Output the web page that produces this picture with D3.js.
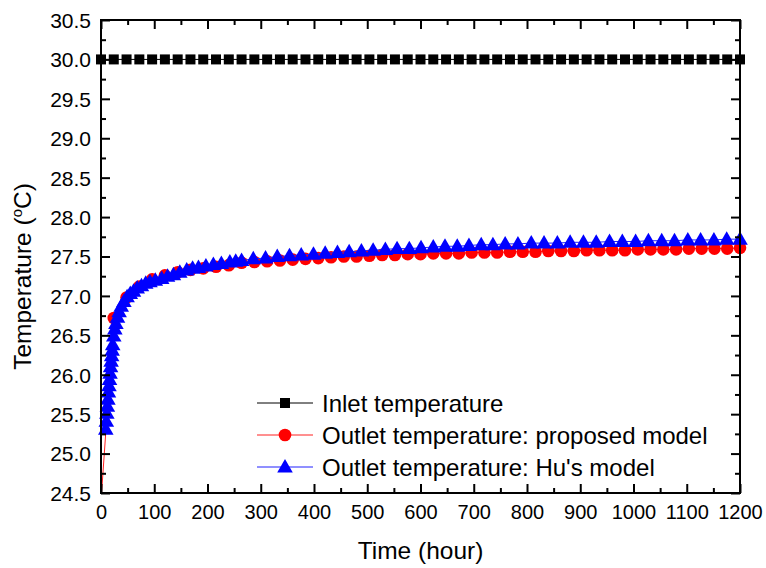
<!DOCTYPE html>
<html><head><meta charset="utf-8">
<script src="https://cdn.jsdelivr.net/npm/d3@7"></script>
<style>
html,body{margin:0;padding:0;background:#fff;}
text{font-family:"Liberation Sans",Arial,sans-serif;fill:#000;}
</style></head>
<body>
<svg id="chart" width="766" height="568"></svg>
<script>
// ---- data ----
const xTicks = [0,100,200,300,400,500,600,700,800,900,1000,1100,1200];
const yTicks = [24.5,25.0,25.5,26.0,26.5,27.0,27.5,28.0,28.5,29.0,29.5,30.0,30.5];

const inletTime = [0,24,48,72,96,120,144,168,192,216,240,264,288,312,336,360,384,408,432,456,480,504,528,552,576,600,624,648,672,696,720,744,768,792,816,840,864,888,912,936,960,984,1008,1032,1056,1080,1104,1128,1152,1176,1200];
const inletTemp = [30,30,30,30,30,30,30,30,30,30,30,30,30,30,30,30,30,30,30,30,30,30,30,30,30,30,30,30,30,30,30,30,30,30,30,30,30,30,30,30,30,30,30,30,30,30,30,30,30,30,30];

const proposedTime = [0,24,48,72,96,120,144,168,192,216,240,264,288,312,336,360,384,408,432,456,480,504,528,552,576,600,624,648,672,696,720,744,768,792,816,840,864,888,912,936,960,984,1008,1032,1056,1080,1104,1128,1152,1176,1200];
const proposedTemp = [24.4,26.72,26.98,27.12,27.21,27.26,27.30,27.33,27.35,27.37,27.39,27.42,27.43,27.44,27.45,27.46,27.47,27.48,27.49,27.50,27.50,27.51,27.52,27.52,27.53,27.53,27.54,27.54,27.54,27.55,27.55,27.55,27.56,27.56,27.56,27.57,27.57,27.57,27.58,27.58,27.58,27.58,27.59,27.59,27.59,27.59,27.60,27.60,27.60,27.60,27.61];

const huTime = [9,10,11,12,13,14,15,16,17,18,19,20,21,22,24,26,28,31,34,38,43,49,55,61,68,76,84,92,102,114,125,136,148,161,172,183,197,211,226,242,253,264,286,309,331,354,376,399,421,444,466,489,511,534,556,579,601,624,646,669,691,714,736,759,783,808,832,857,881,906,930,955,979,1004,1028,1053,1077,1102,1126,1151,1175,1200];
const huTemp = [25.31,25.41,25.51,25.60,25.69,25.78,25.86,25.94,26.02,26.10,26.17,26.24,26.31,26.38,26.49,26.58,26.65,26.73,26.80,26.87,26.93,26.99,27.03,27.06,27.10,27.13,27.16,27.18,27.20,27.22,27.25,27.27,27.30,27.33,27.35,27.36,27.38,27.40,27.41,27.43,27.44,27.45,27.47,27.48,27.50,27.51,27.52,27.53,27.54,27.55,27.56,27.57,27.58,27.59,27.60,27.60,27.61,27.62,27.63,27.63,27.64,27.65,27.65,27.66,27.66,27.67,27.67,27.67,27.68,27.68,27.68,27.69,27.69,27.69,27.70,27.70,27.70,27.71,27.71,27.71,27.72,27.72];

const seriesNames = ["Inlet temperature","Outlet temperature: proposed model","Outlet temperature: Hu's model"];
const seriesColors = ["#000000","#ff0000","#0000ff"];
const lineColors = ["#000000","#ff2020","#2020ff"];

// ---- layout ----
const L = 101, R = 740, T = 20, B = 493;
const svg = d3.select("#chart");
const x = d3.scaleLinear().domain([0,1200]).range([L,R]);
const y = d3.scaleLinear().domain([24.5,30.5]).range([B,T]);

svg.append("defs").append("clipPath").attr("id","clip")
  .append("rect").attr("x",L-8).attr("y",0).attr("width",R-L+16).attr("height",B);

const series = [
  {t: inletTime, v: inletTemp, shape: "square"},
  {t: proposedTime, v: proposedTemp, shape: "circle"},
  {t: huTime, v: huTemp, shape: "triangle"}
];

const symbolFor = s => s==="square" ? d3.symbol(d3.symbolSquare, 100)
  : s==="circle" ? d3.symbol(d3.symbolCircle, 125)
  : d3.symbol(d3.symbolTriangle, 105);

const plot = svg.append("g").attr("clip-path","url(#clip)");
series.forEach((s,i) => {
  const pts = s.t.map((t,k)=>[t,s.v[k]]);
  plot.append("path").datum(pts)
    .attr("d", d3.line().x(d=>x(d[0])).y(d=>y(d[1])))
    .attr("fill","none").attr("stroke",lineColors[i]).attr("stroke-width",1);
  plot.append("g").selectAll("path").data(pts).join("path")
    .attr("transform", d=>`translate(${x(d[0])},${y(d[1]) + (s.shape==="triangle"?1:0)})`)
    .attr("d", symbolFor(s.shape)())
    .attr("fill", seriesColors[i]);
});

// ---- axes ----
const xMinor = d3.range(50,1200,100);
const yMinor = d3.range(24.75,30.5,0.5);
function drawAxis(axisGen, tr, major, minor, labels, fontSize){
  const g = svg.append("g").attr("transform",tr);
  g.call(axisGen.tickValues(minor).tickSize(5).tickFormat(""));
  g.selectAll(".tick line").attr("stroke-width",2);
  const g2 = svg.append("g").attr("transform",tr);
  g2.call(axisGen.tickValues(major).tickSize(9).tickPadding(labels?12:0)
    .tickFormat(labels ? labels : ""));
  g2.selectAll(".tick line").attr("stroke-width",2);
  g2.selectAll(".tick text").attr("font-size",fontSize).attr("font-family","Liberation Sans, Arial, sans-serif");
  [g,g2].forEach(gg=>gg.select(".domain").remove());
  return g2;
}
// bottom (ticks inward = upward)
const gb = drawAxis(d3.axisTop(x), `translate(0,${B})`, xTicks, xMinor, d=>d3.format("d")(d), 20);
gb.selectAll(".tick text").attr("y", 26).attr("dy","0");
// top
drawAxis(d3.axisBottom(x), `translate(0,${T})`, xTicks, xMinor, null, 0);
// left (ticks inward = rightward)
const gl = drawAxis(d3.axisRight(y), `translate(${L},0)`, yTicks, yMinor, d=>d3.format(".1f")(d), 21);
gl.selectAll(".tick text").attr("x",-10).attr("text-anchor","end").attr("dy","0.35em");
// right
drawAxis(d3.axisLeft(y), `translate(${R},0)`, yTicks, yMinor, null, 0);

// frame
svg.append("rect").attr("x",L).attr("y",T).attr("width",R-L).attr("height",B-T)
  .attr("fill","none").attr("stroke","#000").attr("stroke-width",2);

// axis titles
svg.append("text").attr("x",(L+R)/2).attr("y",559).attr("text-anchor","middle")
  .attr("font-size",24.5).text("Time (hour)");
const yt = svg.append("text").attr("transform",`translate(31,${(T+B)/2+20}) rotate(-90)`)
  .attr("text-anchor","middle").attr("font-size",24.5);
yt.append("tspan").text("Temperature (");
yt.append("tspan").attr("font-size",15).attr("dy",-9).text("o");
yt.append("tspan").attr("dy",9).text("C)");

// legend
const legY = [403,435,467];
const leg = svg.append("g");
seriesNames.forEach((name,i)=>{
  leg.append("line").attr("x1",257).attr("x2",313).attr("y1",legY[i]).attr("y2",legY[i])
    .attr("stroke",lineColors[i]).attr("stroke-width",1);
  leg.append("path").attr("transform",`translate(285,${legY[i] + (i===2?1:0)})`)
    .attr("d", symbolFor(series[i].shape)()).attr("fill",seriesColors[i]);
  leg.append("text").attr("x",322).attr("y",legY[i]).attr("dy","0.36em")
    .attr("font-size",24).text(name);
});
</script>
</body></html>
